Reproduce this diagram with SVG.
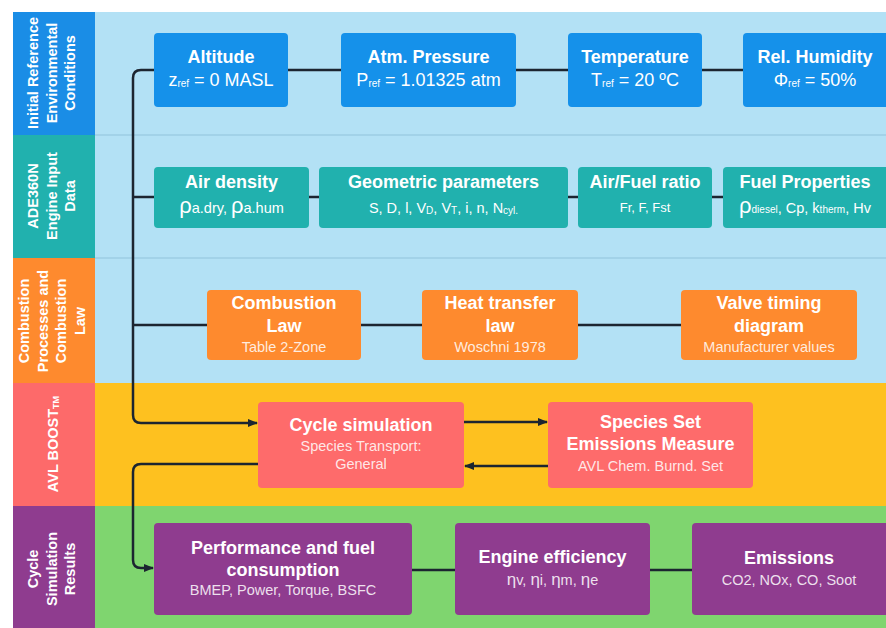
<svg xmlns="http://www.w3.org/2000/svg" width="886" height="628" viewBox="0 0 886 628">
<defs>
<marker id="arr" viewBox="0 0 10 10" refX="9" refY="5" markerWidth="10" markerHeight="10" markerUnits="userSpaceOnUse" orient="auto">
<path d="M0,1 L10,5 L0,9 Z" fill="#1c2530"/>
</marker>
<style>
text{font-family:"Liberation Sans",Arial,sans-serif;fill:#fff;text-anchor:middle}
.lab{font-size:14.5px;font-weight:bold}
.t{font-size:18px;font-weight:bold}
.s{font-size:18px}
.m{font-size:14.5px}
.sm{font-size:13px}
.dim{fill-opacity:0.85}
.sub{font-size:10px}
.c{fill:none;stroke:#1c2530;stroke-width:2.5}
</style>
</defs>
<rect x="0" y="0" width="886" height="628" fill="#ffffff"/>
<!-- lane backgrounds -->
<rect x="13" y="12" width="873" height="246" fill="#b3e1f5"/>
<rect x="13" y="258" width="873" height="125" fill="#b3e1f5"/>
<rect x="13" y="383" width="873" height="123" fill="#fec11f"/>
<rect x="13" y="506" width="873" height="122" fill="#7fd56f"/>
<line x1="95" y1="135" x2="886" y2="135" stroke="#9ccde3" stroke-width="1.5"/>
<line x1="95" y1="258" x2="886" y2="258" stroke="#9ccde3" stroke-width="1.5"/>
<!-- lane labels -->
<g id="lane1">
<rect x="13" y="12" width="82" height="123" fill="#1a8de6"/>
<g transform="translate(52,73) rotate(-90)"><text class="lab" y="-14">Initial Reference</text><text class="lab" y="5">Environmental</text><text class="lab" y="23">Conditions</text></g>
</g>
<g id="lane2">
<rect x="13" y="135" width="82" height="123" fill="#21b1ae"/>
<g transform="translate(52,196) rotate(-90)"><text class="lab" y="-14">ADE360N</text><text class="lab" y="5">Engine Input</text><text class="lab" y="23">Data</text></g>
</g>
<g id="lane3">
<rect x="13" y="258" width="82" height="125" fill="#fe8a2e"/>
<g transform="translate(52,321) rotate(-90)"><text class="lab" y="-23">Combustion</text><text class="lab" y="-4">Processes and</text><text class="lab" y="14">Combustion</text><text class="lab" y="33">Law</text></g>
</g>
<g id="lane4">
<rect x="13" y="383" width="82" height="123" fill="#fd6a6a"/>
<g transform="translate(53,444) rotate(-90)"><text class="lab" y="5">AVL BOOST<tspan font-size="9" dy="1">TM</tspan></text></g>
</g>
<g id="lane5">
<rect x="13" y="506" width="82" height="122" fill="#8f3c8f"/>
<g transform="translate(52,569) rotate(-90)"><text class="lab" y="-14">Cycle</text><text class="lab" y="5">Simulation</text><text class="lab" y="23">Results</text></g>
</g>
<!-- connectors -->
<g id="connectors">
<path class="c" d="M154,70 H141 Q133,70 133,78 V415 Q133,423 141,423 H257" marker-end="url(#arr)"/>
<path class="c" d="M288,70 H341 M516,70 H568 M702,70 H743"/>
<path class="c" d="M133,197 H154 M309,197 H319 M568,197 H578 M712,197 H723"/>
<path class="c" d="M133,325 H207 M361,325 H422 M578,325 H681"/>
<path class="c" d="M464,422 H547" marker-end="url(#arr)"/>
<path class="c" d="M548,466 H465" marker-end="url(#arr)"/>
<path class="c" d="M258,464 H141 Q133,464 133,472 V560 Q133,568 141,568 H153" marker-end="url(#arr)"/>
<path class="c" d="M412,570 H455 M650,570 H692"/>
</g>
<!-- lane 1 nodes -->
<g id="altitude"><rect x="154" y="33" width="134" height="74" rx="4" fill="#1591ea"/>
<text class="t" x="221" y="63">Altitude</text>
<text class="s" x="221" y="86">z<tspan class="sub" dy="1">ref</tspan><tspan dy="-1"> = 0 MASL</tspan></text></g>
<g id="pressure"><rect x="341" y="33" width="175" height="74" rx="4" fill="#1591ea"/>
<text class="t" x="428.5" y="63">Atm. Pressure</text>
<text class="s" x="428.5" y="86">P<tspan class="sub" dy="1">ref</tspan><tspan dy="-1"> = 1.01325 atm</tspan></text></g>
<g id="temperature"><rect x="568" y="33" width="134" height="74" rx="4" fill="#1591ea"/>
<text class="t" x="635" y="63">Temperature</text>
<text class="s" x="635" y="86">T<tspan class="sub" dy="1">ref</tspan><tspan dy="-1"> = 20 ºC</tspan></text></g>
<g id="humidity"><rect x="743" y="33" width="150" height="74" rx="4" fill="#1591ea"/>
<text class="t" x="815" y="63">Rel. Humidity</text>
<text class="s" x="815" y="86">Φ<tspan class="sub" dy="1">ref</tspan><tspan dy="-1"> = 50%</tspan></text></g>
<!-- lane 2 nodes -->
<g id="airdensity"><rect x="154" y="167" width="155" height="61" rx="4" fill="#21b1ae"/>
<text class="t" x="231.5" y="188">Air density</text>
<text class="m" x="231.5" y="213"><tspan font-size="22">ρ</tspan>a.dry, <tspan font-size="22">ρ</tspan>a.hum</text></g>
<g id="geometric"><rect x="319" y="167" width="249" height="61" rx="4" fill="#21b1ae"/>
<text class="t" x="443.5" y="188">Geometric parameters</text>
<text class="m" x="443.5" y="213">S, D, l, V<tspan class="sub" dy="1">D</tspan><tspan dy="-1">, V</tspan><tspan class="sub" dy="1">T</tspan><tspan dy="-1">, i, n, N</tspan><tspan class="sub" dy="1">cyl.</tspan></text></g>
<g id="airfuel"><rect x="578" y="167" width="134" height="61" rx="4" fill="#21b1ae"/>
<text class="t" x="645" y="188">Air/Fuel ratio</text>
<text class="sm" x="645" y="212">Fr, F, Fst</text></g>
<g id="fuelprops"><rect x="723" y="167" width="170" height="61" rx="4" fill="#21b1ae"/>
<text class="t" x="805" y="188">Fuel Properties</text>
<text class="m" x="805" y="213"><tspan font-size="22">ρ</tspan><tspan class="sub">diesel</tspan>, Cp, k<tspan class="sub">therm</tspan>, Hv</text></g>
<!-- lane 3 nodes -->
<g id="combustion"><rect x="207" y="290" width="154" height="70" rx="4" fill="#fe8a2e"/>
<text class="t" x="284" y="309">Combustion</text>
<text class="t" x="284" y="332">Law</text>
<text class="m dim" x="284" y="352">Table 2-Zone</text></g>
<g id="heattransfer"><rect x="422" y="290" width="156" height="70" rx="4" fill="#fe8a2e"/>
<text class="t" x="500" y="309">Heat transfer</text>
<text class="t" x="500" y="332">law</text>
<text class="m dim" x="500" y="352">Woschni 1978</text></g>
<g id="valvetiming"><rect x="681" y="290" width="176" height="70" rx="4" fill="#fe8a2e"/>
<text class="t" x="769" y="309">Valve timing</text>
<text class="t" x="769" y="332">diagram</text>
<text class="m dim" x="769" y="352">Manufacturer values</text></g>
<!-- lane 4 nodes -->
<g id="cyclesim"><rect x="258" y="402" width="206" height="86" rx="4" fill="#fe6b6b"/>
<text class="t" x="361" y="431">Cycle simulation</text>
<text class="m dim" x="361" y="451">Species Transport:</text>
<text class="m dim" x="361" y="469">General</text></g>
<g id="speciesset"><rect x="548" y="402" width="205" height="86" rx="4" fill="#fe6b6b"/>
<text class="t" x="650.5" y="428">Species Set</text>
<text class="t" x="650.5" y="450">Emissions Measure</text>
<text class="m dim" x="650.5" y="471">AVL Chem. Burnd. Set</text></g>
<!-- lane 5 nodes -->
<g id="performance"><rect x="154" y="523" width="258" height="92" rx="4" fill="#8f3c8f"/>
<text class="t" x="283" y="554">Performance and fuel</text>
<text class="t" x="283" y="576">consumption</text>
<text class="m dim" x="283" y="595">BMEP, Power, Torque, BSFC</text></g>
<g id="efficiency"><rect x="455" y="523" width="195" height="92" rx="4" fill="#8f3c8f"/>
<text class="t" x="552.5" y="563">Engine efficiency</text>
<text class="m dim" x="552.5" y="585"><tspan font-size="17">η</tspan>v, <tspan font-size="17">η</tspan>i, <tspan font-size="17">η</tspan>m, <tspan font-size="17">η</tspan>e</text></g>
<g id="emissions"><rect x="692" y="523" width="200" height="92" rx="4" fill="#8f3c8f"/>
<text class="t" x="789" y="564">Emissions</text>
<text class="m dim" x="789" y="585">CO2, NOx, CO, Soot</text></g>
</svg>
